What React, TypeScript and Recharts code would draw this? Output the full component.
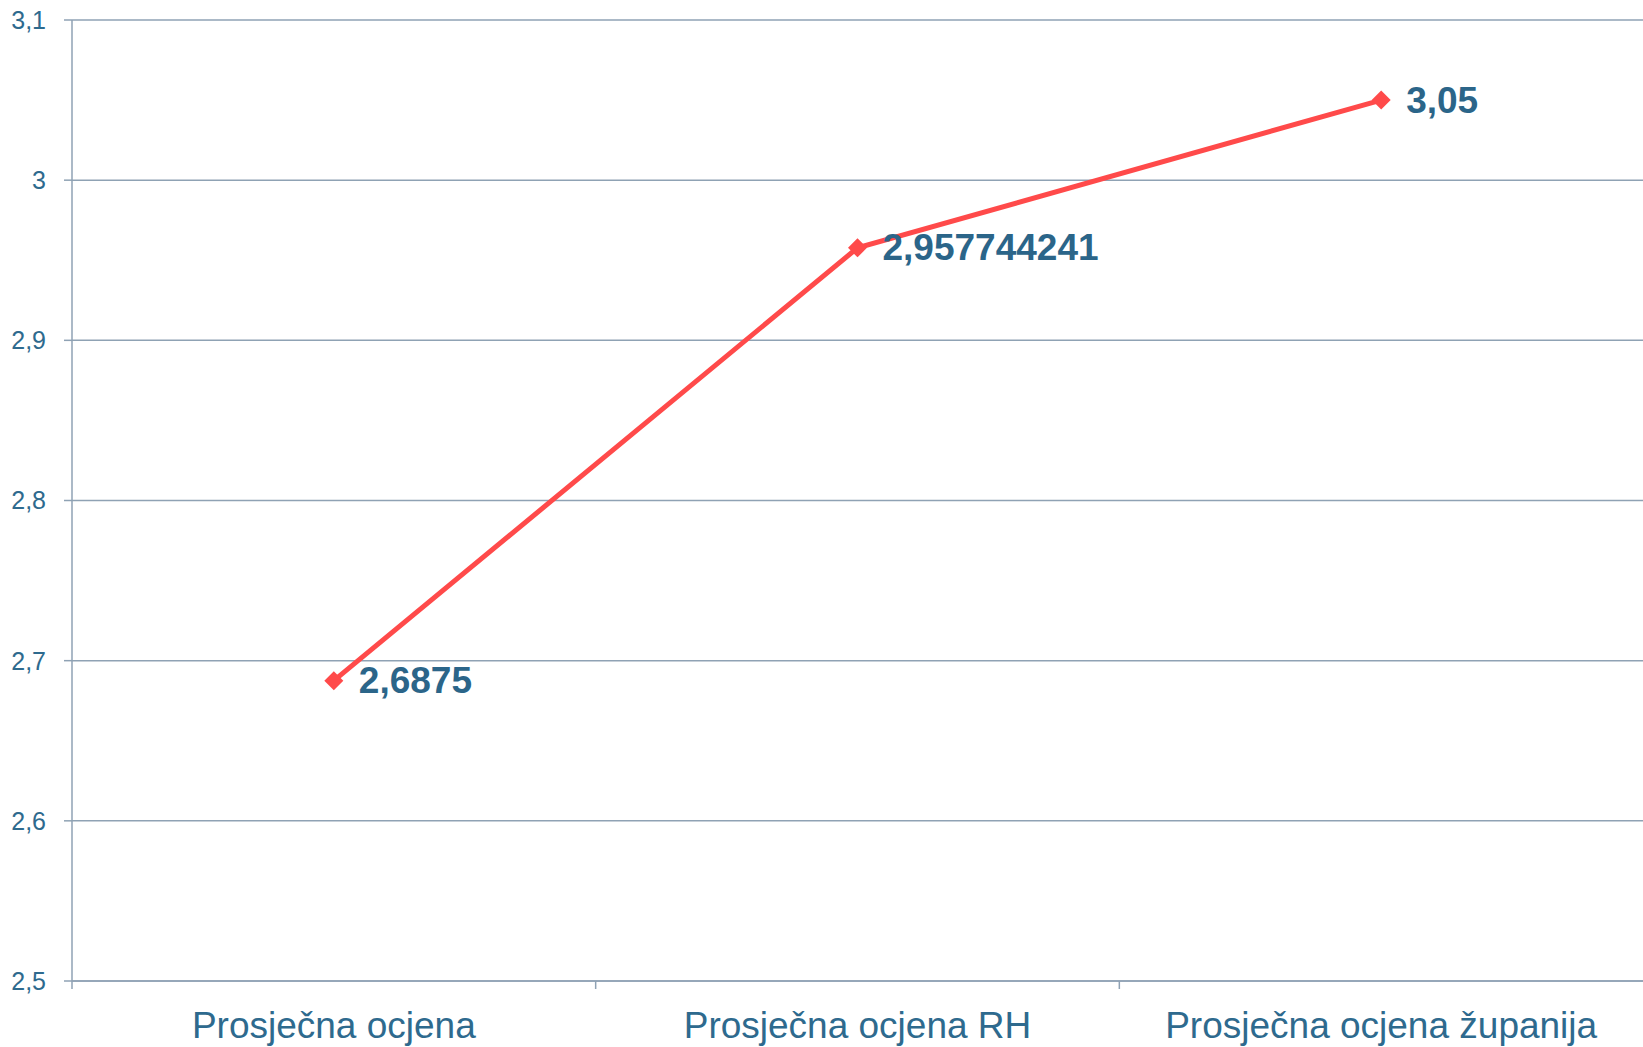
import {
  ComposedChart,
  Line,
  XAxis,
  YAxis,
  CartesianGrid,
  LabelList,
} from 'recharts';

const categories = ['Prosječna ocjena', 'Prosječna ocjena RH', 'Prosječna ocjena županija'];
const averages = [2.6875, 2.957744241, 3.05];
const yTicks = [2.5, 2.6, 2.7, 2.8, 2.9, 3, 3.1];

const data = categories.map((name, i) => ({ name, value: averages[i] }));

const GRID = '#8FA2B4';
const TEXT = '#2E6A8E';
const LINE = '#FF4A4A';

const comma = (v: number) => String(v).replace('.', ',');

function Diamond(props: any) {
  const { cx, cy, index } = props;
  const r = 9.5;
  return (
    <polygon
      key={`d-${index}`}
      points={`${cx},${cy - r} ${cx + r},${cy} ${cx},${cy + r} ${cx - r},${cy}`}
      fill={LINE}
    />
  );
}

function ValueLabel(props: any) {
  const { x, y, value } = props;
  return (
    <text
      x={x + 25}
      y={y}
      dominantBaseline="central"
      fill="#2B6589"
      fontSize={37}
      fontWeight="bold"
    >
      {comma(value)}
    </text>
  );
}

// category label plus a tick mark at the left edge of each band
function CategoryTick(props: any) {
  const { x, y, payload } = props;
  const half = payload.offset || 0;
  return (
    <g>
      <line x1={x - half} y1={y} x2={x - half} y2={y + 8} stroke={GRID} strokeWidth={1.5} />
      <text x={x} y={y + 57} textAnchor="middle" fill={TEXT} fontSize={37}>
        {payload.value}
      </text>
    </g>
  );
}

export default function App() {
  return (
    <div
      style={{
        position: 'absolute',
        left: 0,
        top: 0,
        width: 1643,
        height: 1047,
        background: '#fff',
        fontFamily: '"Liberation Sans", Arial, sans-serif',
      }}
    >
      <ComposedChart
        width={1643}
        height={1047}
        data={data}
        margin={{ top: 20, right: 0, bottom: 0, left: 0 }}
      >
        <CartesianGrid vertical={false} stroke={GRID} strokeWidth={1.5} />
        <XAxis
          dataKey="name"
          scale="band"
          height={66}
          stroke={GRID}
          strokeWidth={1.5}
          tickLine={false}
          tickSize={0}
          tickMargin={0}
          interval={0}
          tick={<CategoryTick />}
        />
        <YAxis
          domain={[2.5, 3.1]}
          ticks={yTicks}
          tickFormatter={comma}
          width={72}
          tickSize={8}
          tickMargin={18}
          stroke={GRID}
          strokeWidth={1.5}
          tick={{ fontSize: 25, fill: TEXT }}
        />
        <Line
          dataKey="value"
          stroke={LINE}
          strokeWidth={5}
          dot={<Diamond />}
          activeDot={false}
          isAnimationActive={false}
        >
          <LabelList dataKey="value" content={<ValueLabel />} />
        </Line>
      </ComposedChart>
    </div>
  );
}
